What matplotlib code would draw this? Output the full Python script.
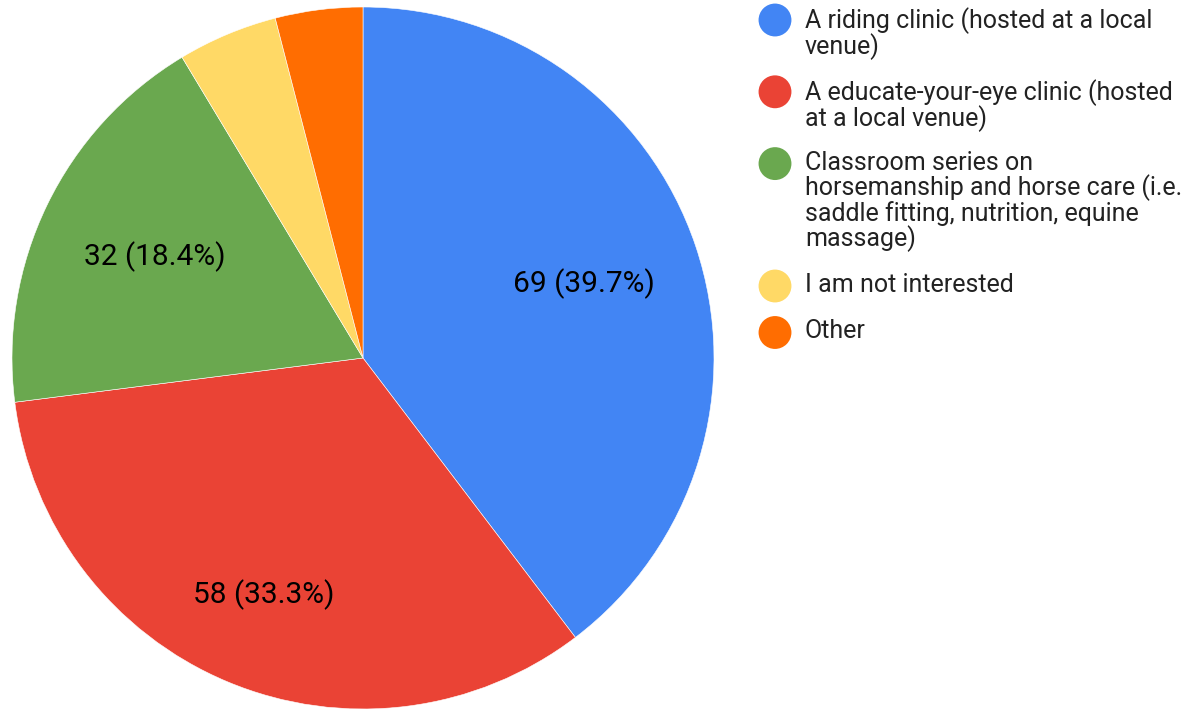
import matplotlib.pyplot as plt

labels = [
    "A riding clinic (hosted at a local\nvenue)",
    "A educate-your-eye clinic (hosted\nat a local venue)",
    "Classroom series on\nhorsemanship and horse care (i.e.\nsaddle fitting, nutrition, equine\nmassage)",
    "I am not interested",
    "Other",
]
counts = [69, 58, 32, 8, 7]
colors = ["#4285F4", "#EA4335", "#6AA84F", "#FFD966", "#FF6D01"]

plt.rcParams["font.family"] = ["Roboto", "DejaVu Sans"]

W, H = 1191, 712
fig = plt.figure(figsize=(W / 100, H / 100), dpi=100)

# pie
cx, cy, r = 363, 358, 351
ax = fig.add_axes([(cx - r) / W, (H - cy - r) / H, 2 * r / W, 2 * r / H])
total = sum(counts)


def fmt(pct):
    n = round(pct * total / 100)
    return f"{n} ({pct:.1f}%)" if pct > 10 else ""


wedges, _, autotexts = ax.pie(
    counts, colors=colors, startangle=90, counterclock=False,
    autopct=fmt, pctdistance=0.66,
    wedgeprops=dict(edgecolor="white", linewidth=0.4),
    textprops=dict(fontsize=21.5, color="#000000"),
)
# nudge label distances to match the original layout
for t, d in zip(autotexts, [0.665, 0.73, 0.66]):
    x, y = t.get_position()
    t.set_position((x * d / 0.66, y * d / 0.66))
ax.set_xlim(-1, 1)
ax.set_ylim(-1, 1)
ax.set_aspect("equal")

# legend drawn by hand so the dot sits on the first line
lg = fig.add_axes([0, 0, 1, 1])
lg.set_xlim(0, W)
lg.set_ylim(H, 0)
lg.axis("off")
line_h = 25.3
gap = 46.5
y = 20
for lab, col in zip(labels, colors):
    lg.scatter([775], [y], s=560, color=col, edgecolors="none")
    lg.text(805, y - 13, lab, fontsize=18, color="#222222", va="top",
            ha="left", linespacing=0.98)
    y += line_h * (lab.count("\n")) + gap

fig.savefig("out.png", dpi=100)
